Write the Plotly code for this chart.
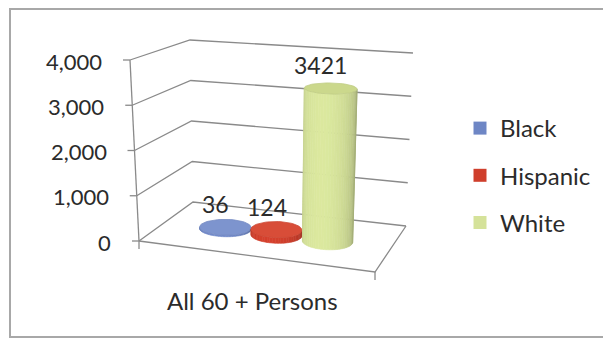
import numpy as np
import plotly.graph_objects as go

# ---------------- data ----------------
category = "All 60 + Persons"
series = ["Black", "Hispanic", "White"]
values = [36, 124, 3421]
tick_values = [0, 1000, 2000, 3000, 4000]
tick_labels = ["0", "1,000", "2,000", "3,000", "4,000"]

# ---------------- style ----------------
body_colors = ["#6E86C5", "#CF3F2C", "#D5E29A"]
top_colors = ["#7D94CE", "#D84D38", "#CBD88C"]
FONT = "Lato"
TXT = "#2b2b2b"
GRID = "#8a8a8a"
VMAX = 4000.0

# screen positions of the 3D plot box corners (u: across, v: depth, w: height fraction)
C = {
    (0, 0, 0): (139, 241), (1, 0, 0): (375, 272),
    (0, 1, 0): (193, 202), (1, 1, 0): (406, 226),
    (0, 0, 1): (130, 60), (1, 0, 1): (383, 82),
    (0, 1, 1): (190, 40), (1, 1, 1): (413, 53),
}


def proj(u, v, h):
    w = h / VMAX
    x = y = 0.0
    for (a, b, c), (px, py) in C.items():
        k = (u if a else 1 - u) * (v if b else 1 - v) * (w if c else 1 - w)
        x += k * px
        y += k * py
    return x, y


def shade(hexc, f):
    r, g, b = int(hexc[1:3], 16), int(hexc[3:5], 16), int(hexc[5:7], 16)
    return "rgb(%d,%d,%d)" % (min(255, r * f), min(255, g * f), min(255, b * f))


fig = go.Figure()


def line_trace(pts, color=GRID, width=1.3):
    xs, ys = [], []
    for seg in pts:
        for p in seg:
            xs.append(p[0]); ys.append(p[1])
        xs.append(None); ys.append(None)
    fig.add_trace(go.Scatter(x=xs, y=ys, mode="lines", line=dict(color=color, width=width),
                             hoverinfo="skip", showlegend=False))


# gridlines (left wall + back wall)
segs = []
for tv in tick_values:
    segs.append([proj(0, 0, tv), proj(0, 1, tv), proj(1, 1, tv)])
# floor
segs.append([proj(0, 0, 0), proj(1, 0, 0), proj(1, 1, 0)])
# value axis line
segs.append([proj(0, 0, 0), proj(0, 0, VMAX)])
line_trace(segs)

# tick marks
tsegs = []
for tv in tick_values:
    x, y = proj(0, 0, tv)
    tsegs.append([(x - 7, y), (x, y)])
for u in (0, 1):
    x, y = proj(u, 0, 0)
    tsegs.append([(x, y), (x, y + 8)])
line_trace(tsegs)

# tick labels
annotations = []
for tv, tl in zip(tick_values, tick_labels):
    x, y = proj(0, 0, tv)
    annotations.append(dict(x=x - 26, y=y + 1, text=tl, showarrow=False, xanchor="right",
                            yanchor="middle", font=dict(family=FONT, size=22, color=TXT)))

# category label
cx, cy = proj(0.5, 0, 0)
annotations.append(dict(x=cx - 5, y=cy + 44, text=category, showarrow=False, xanchor="center",
                        yanchor="middle", font=dict(family=FONT, size=24, color=TXT)))

# cylinders
r_u, r_v = 0.108, 0.18
v_c = 0.5
for i, (name, val) in enumerate(zip(series, values)):
    u_c = 0.265 + 0.2275 * i
    c0 = np.array(proj(u_c, v_c, 0))
    a = np.array(proj(u_c + r_u, v_c, 0)) - c0
    b = np.array(proj(u_c, v_c + r_v, 0)) - c0
    t0 = np.arctan2(b[0], a[0])
    ts = np.linspace(t0 + np.pi, t0 + 2 * np.pi, 30)

    def pt(t, h):
        return proj(u_c + r_u * np.cos(t), v_c + r_v * np.sin(t), h)

    for k in range(len(ts) - 1):
        s = (k + 0.5) / (len(ts) - 1)
        f = 1.03 - 0.28 * ((s - 0.4) / 0.6) ** 2
        col = shade(body_colors[i], f)
        p = [pt(ts[k], 0), pt(ts[k + 1], 0), pt(ts[k + 1], val), pt(ts[k], val), pt(ts[k], 0)]
        fig.add_trace(go.Scatter(x=[q[0] for q in p], y=[q[1] for q in p], mode="lines",
                                 fill="toself", fillcolor=col, line=dict(color=col, width=0.6),
                                 hoverinfo="skip", showlegend=False))
    tt = np.linspace(0, 2 * np.pi, 60)
    top = [pt(t, val) for t in tt]
    fig.add_trace(go.Scatter(x=[q[0] for q in top], y=[q[1] for q in top], mode="lines",
                             fill="toself", fillcolor=top_colors[i],
                             line=dict(color=shade(top_colors[i], 0.95), width=0.8),
                             hoverinfo="skip", showlegend=False))
    lx, ly = proj(u_c, v_c, val)
    annotations.append(dict(x=lx - 10, y=ly - 23, text=str(val), showarrow=False,
                            xanchor="center", yanchor="middle",
                            font=dict(family=FONT, size=23, color=TXT)))

# legend entries
for i, name in enumerate(series):
    fig.add_trace(go.Scatter(x=[None], y=[None], mode="markers", name=name, legendgroup=name,
                             marker=dict(symbol="square", size=13, color=body_colors[i])))

fig.update_layout(
    width=603, height=339, autosize=False,
    margin=dict(l=0, r=0, t=0, b=0),
    paper_bgcolor="white", plot_bgcolor="white",
    xaxis=dict(range=[0, 603], visible=False, fixedrange=True),
    yaxis=dict(range=[339, 0], visible=False, fixedrange=True),
    annotations=annotations,
    shapes=[dict(type="rect", xref="x", yref="y", x0=10, y0=9, x1=615, y1=337,
                 line=dict(color="#a8a8a8", width=2))],
    legend=dict(x=460 / 603, y=1 - 106 / 339, xanchor="left", yanchor="top",
                font=dict(family=FONT, size=24, color=TXT), traceorder="grouped",
                tracegroupgap=13, bgcolor="rgba(0,0,0,0)"),
    showlegend=True,
)

fig.write_html("out.html")
